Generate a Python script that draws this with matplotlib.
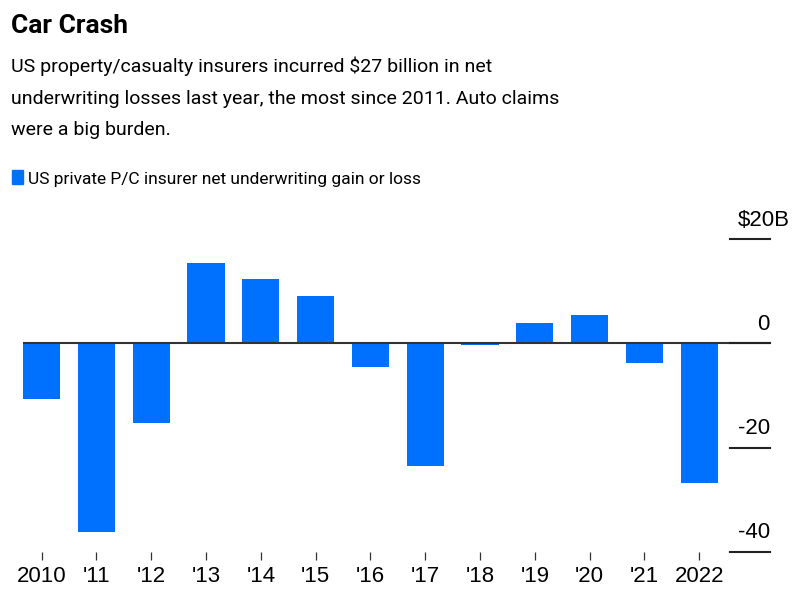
import matplotlib.pyplot as plt
import numpy as np

# data (US$ billions)
years = ["2010", "'11", "'12", "'13", "'14", "'15", "'16", "'17", "'18", "'19", "'20", "'21", "2022"]
values = [-10.6, -36.3, -15.2, 15.4, 12.3, 9.15, -4.6, -23.5, -0.3, 3.85, 5.4, -3.7, -26.9]
y_ticks = [20, 0, -20, -40]
y_labels = ["$20B", "0", "-20", "-40"]

BLUE = '#0070ff'
head = ['Roboto', 'DejaVu Sans']
plain = ['Liberation Sans', 'DejaVu Sans']

W, H = 803, 614
fig = plt.figure(figsize=(W / 100, H / 100), dpi=100)

# axes placed in pixel terms
left, right, top, bottom = 23, 770, 239.3, 551.7
ax = fig.add_axes([left / W, 1 - bottom / H, (right - left) / W, (bottom - top) / H])

x = np.arange(len(years))
width = 0.68
ax.bar(x, values, width, color=BLUE, zorder=2)

ax.set_xlim(-width / 2, (right - 42) / 54.77)
ax.set_ylim(-40, 20)

# zero line across everything, short grid stubs on the right
ax.axhline(0, color='#333333', linewidth=1.5, zorder=3)
stub = (730 - left) / (right - left)
for t in y_ticks:
    ax.axhline(t, xmin=stub, xmax=1, color='#222222', linewidth=1.5, zorder=3, clip_on=False)

# y labels sit above their lines
for t, lab in zip(y_ticks, y_labels):
    dx = 14 if lab.startswith('$') else 0
    ax.annotate(lab, xy=(1, t), xycoords=ax.get_yaxis_transform(),
                xytext=(dx, 6), textcoords='offset points',
                ha='right', va='bottom', fontsize=16, family=plain, color='black')

ax.set_xticks(x, years)
ax.tick_params(axis='x', length=6, width=0.9, color='#333333', pad=4, labelsize=16)
for lab in ax.get_xticklabels():
    lab.set_family(plain)
ax.set_yticks([])
for s in ax.spines.values():
    s.set_visible(False)

# header
fig.text(11 / W, 1 - 33 / H, "Car Crash", fontsize=19, fontweight='bold',
         family=head, va='baseline', ha='left')
sub = ["US property/casualty insurers incurred $27 billion in net",
       "underwriting losses last year, the most since 2011. Auto claims",
       "were a big burden."]
for i, line in enumerate(sub):
    fig.text(11 / W, 1 - (72 + 31.5 * i) / H, line, fontsize=14,
             family=head, va='baseline', ha='left')

# legend
fig.patches.append(plt.Rectangle((12 / W, 1 - 184 / H), 11 / W, 14 / H,
                                 transform=fig.transFigure, color=BLUE))
fig.text(28 / W, 1 - 184 / H, "US private P/C insurer net underwriting gain or loss",
         fontsize=12.5, family=head, va='baseline', ha='left')

plt.savefig("out.png", dpi=100)
